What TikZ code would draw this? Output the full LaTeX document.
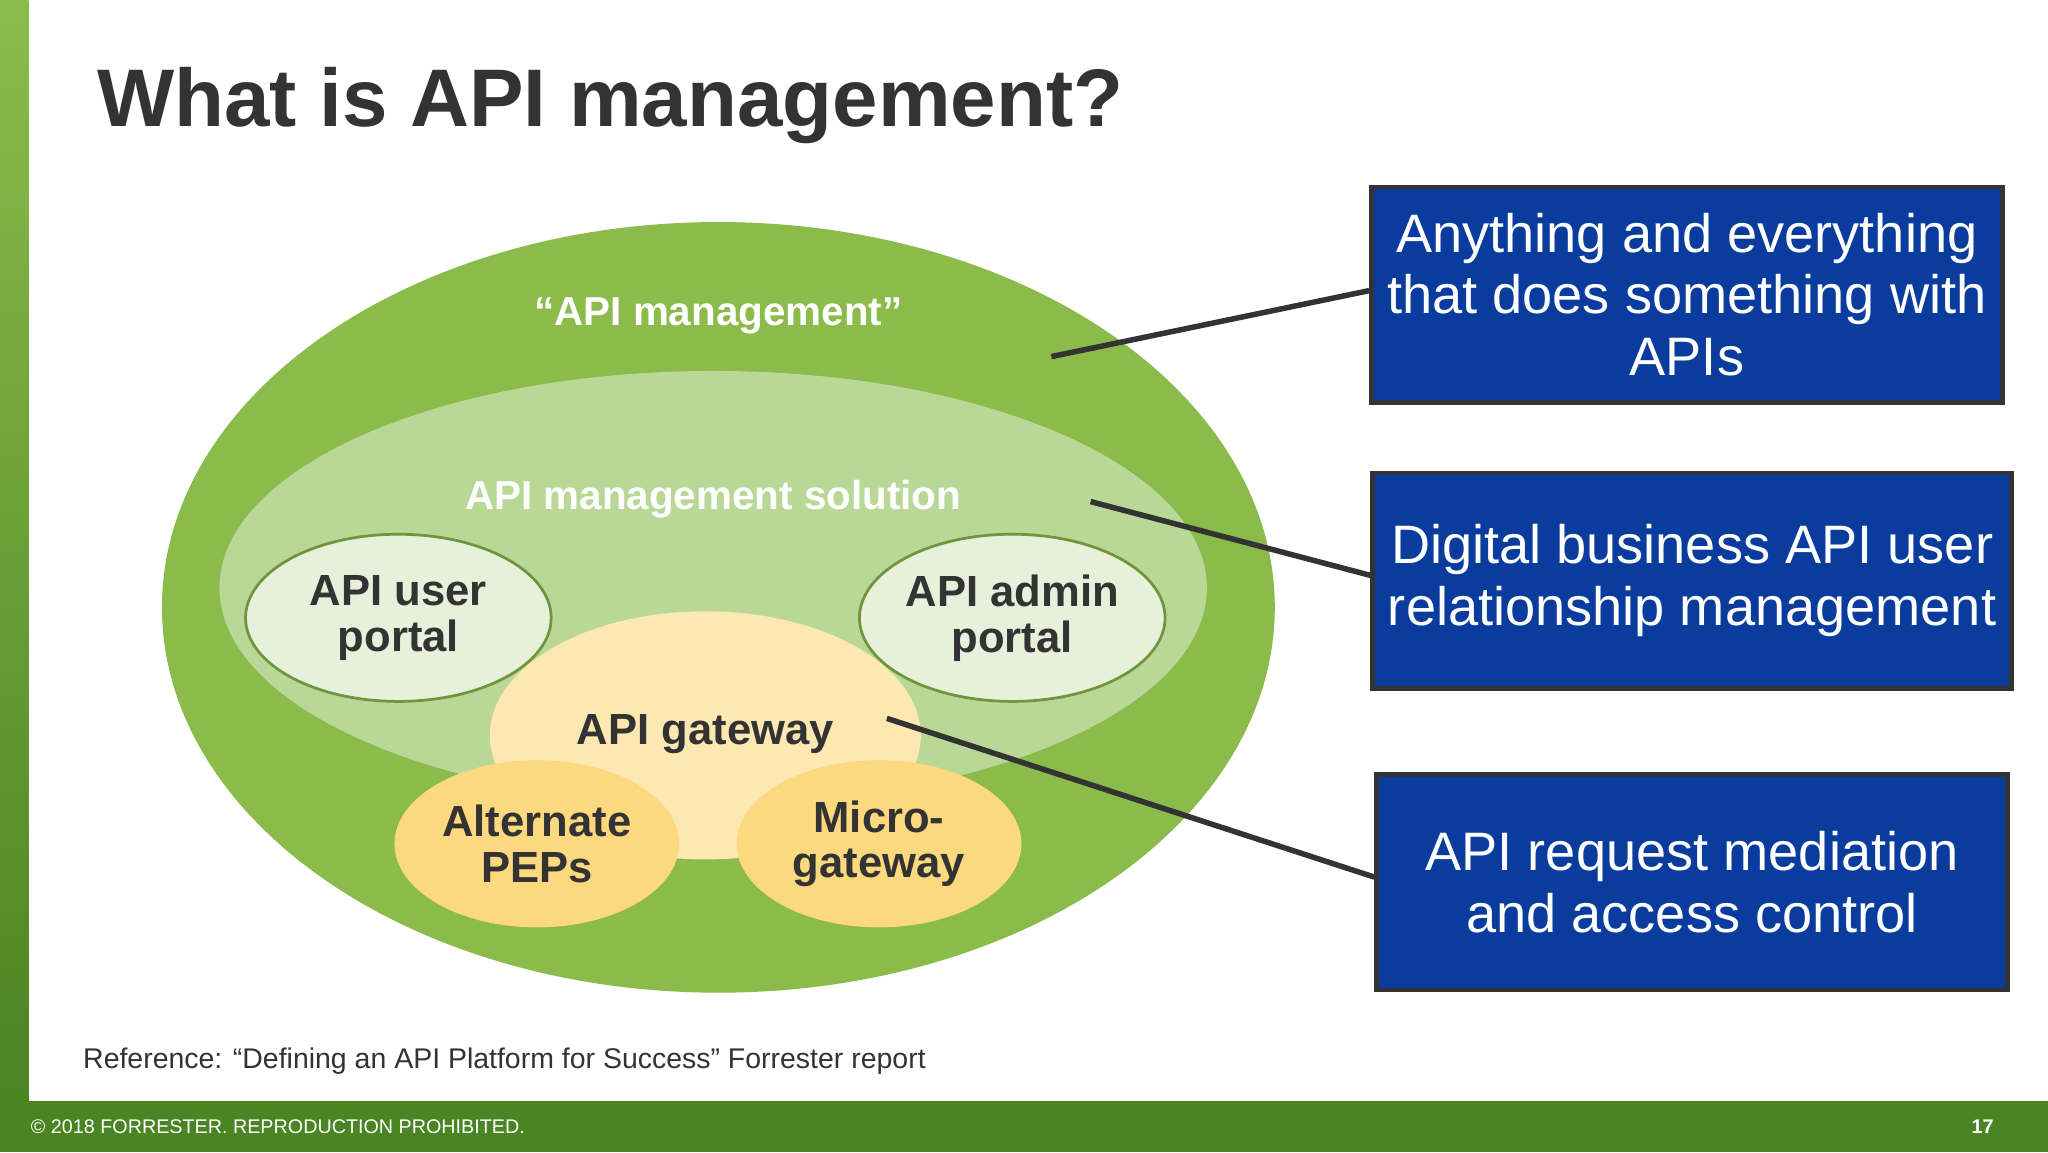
\documentclass[tikz,border=0pt]{standalone}
\usepackage{fontspec}
\setmainfont{Liberation Sans}
\definecolor{outergreen}{HTML}{8BBB4B}
\definecolor{innergreen}{HTML}{B9D898}
\definecolor{portalfill}{HTML}{E7F0DA}
\definecolor{gatefill}{HTML}{FDE8B2}
\definecolor{pepfill}{HTML}{FCD97E}
\definecolor{boxblue}{HTML}{0A3C9E}
\definecolor{bargreen}{HTML}{4A8423}
\definecolor{darktext}{HTML}{333333}
\tikzset{
  blob/.style = {ellipse, draw=outergreen!80!black, line width=0.6pt, text=darktext,
    font=\fontsize{9.5}{10}\selectfont\bfseries, align=center, inner sep=0pt},
  bluebox/.style = {draw=darktext, line width=1pt, fill=boxblue, text=white,
    minimum width=4.83cm, minimum height=1.65cm, align=center,
    font=\fontsize{11.8}{13.4}\selectfont},
  wlabel/.style = {text=white, font=\fontsize{8.8}{10}\selectfont\bfseries},
  pointer/.style = {draw=darktext, line width=1.2pt}
}
\usetikzlibrary{shapes.geometric}
\begin{document}
\begin{tikzpicture}
\useasboundingbox (0,0) rectangle (15.68,-8.82);
% frame
\fill[white] (0,0) rectangle (15.68,-8.82);
\shade[top color=outergreen, bottom color=bargreen] (0,0) rectangle (0.22,-8.43);
\fill[bargreen] (0,-8.43) rectangle (15.68,-8.82);
\node[anchor=base west, text=darktext, font=\fontsize{17.8}{20}\selectfont\bfseries]
  (title) at (0.62,-0.97) {What is API management?};
% ellipses
\node[ellipse, fill=outergreen, minimum width=8.52cm, minimum height=5.9cm] (outer) at (5.50,-4.65) {};
\node[ellipse, fill=innergreen, minimum width=7.56cm, minimum height=3.32cm] (inner) at (5.46,-4.50) {};
\node[wlabel] (lmgmt) at (5.50,-2.42) {“API management”};
\node[wlabel] (lsol) at (5.46,-3.82) {API management solution};
\node[blob, fill=portalfill, minimum width=2.34cm, minimum height=1.28cm] (user) at (3.05,-4.73) {API user\\portal};
\node[blob, fill=portalfill, minimum width=2.34cm, minimum height=1.28cm] (admin) at (7.75,-4.73) {API admin\\portal};
\node[blob, fill=gatefill, draw=none, minimum width=3.30cm, minimum height=1.90cm] (gate) at (5.40,-5.63) {};
\node[text=darktext, font=\fontsize{9.5}{10}\selectfont\bfseries] (lgate) at (5.40,-5.62) {API gateway};
\node[blob, fill=pepfill, draw=none, minimum width=2.18cm, minimum height=1.28cm] (pep) at (4.11,-6.46) {Alternate\\PEPs};
\node[blob, fill=pepfill, draw=none, minimum width=2.18cm, minimum height=1.28cm] (micro) at (6.73,-6.46) {Micro-\\gateway};
% boxes
\node[bluebox] (b1) at (12.915,-2.255) {Anything and everything\\that does something with\\APIs};
\node[bluebox] (b2) at (12.955,-4.445) {Digital business API user\\relationship management};
\node[bluebox] (b3) at (12.955,-6.755) {API request mediation\\and access control};
% pointers
\coordinate (p1) at (8.05,-2.73);
\coordinate (p2) at (8.35,-3.84);
\coordinate (p3) at (6.79,-5.50);
\draw[pointer] (p1) -- ([yshift=0.03cm]b1.west);
\draw[pointer] (p2) -- ([yshift=0.04cm]b2.west);
\draw[pointer] (p3) -- ([yshift=0.04cm]b3.west);
% footnotes
\node[anchor=base west, text=darktext, font=\fontsize{6.2}{7}\selectfont, inner sep=0pt]
  (ref) at (0.63,-8.18) {Reference: “Defining an API Platform for Success” Forrester report};
\node[anchor=west, text=white, font=\fontsize{4.3}{5}\selectfont, inner sep=0pt]
  (copy) at (0.23,-8.625) {© 2018 FORRESTER. REPRODUCTION PROHIBITED.};
\node[anchor=east, text=white, font=\fontsize{4.3}{5}\selectfont\bfseries, inner sep=0pt]
  (page) at (15.27,-8.625) {17};
\end{tikzpicture}
\end{document}
